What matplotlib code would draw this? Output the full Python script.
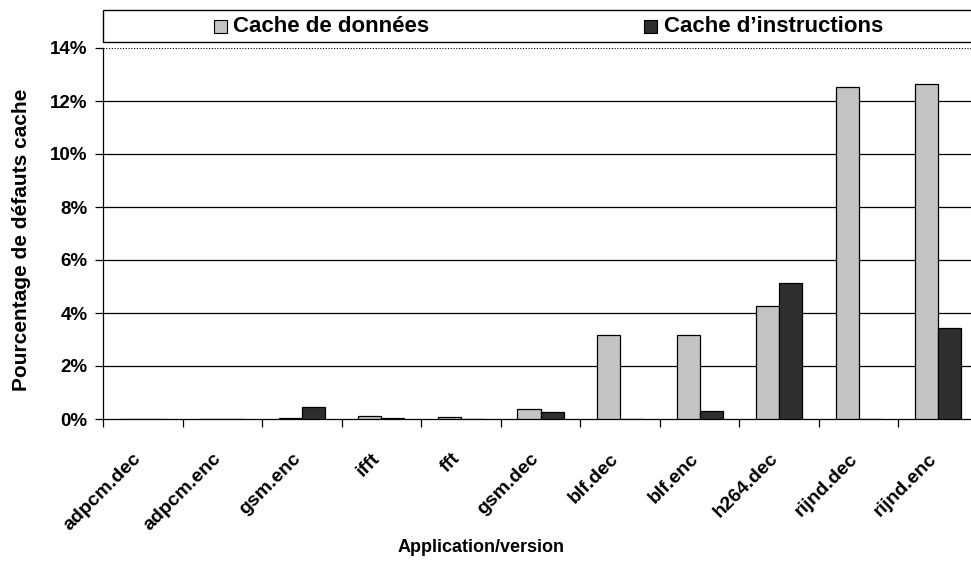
import matplotlib
matplotlib.use("Agg")
import matplotlib.pyplot as plt
from matplotlib.patches import Rectangle
from matplotlib.transforms import ScaledTranslation
import numpy as np

plt.rcParams['font.family'] = ['Liberation Sans', 'DejaVu Sans']

categories = ["adpcm.dec", "adpcm.enc", "gsm.enc", "ifft", "fft", "gsm.dec",
              "blf.dec", "blf.enc", "h264.dec", "rijnd.dec", "rijnd.enc"]
data_cache = [0.0, 0.0, 0.03, 0.10, 0.08, 0.37, 3.17, 3.17, 4.27, 12.53, 12.64]
instr_cache = [0.0, 0.0, 0.45, 0.02, 0.0, 0.25, 0.0, 0.32, 5.13, 0.0, 3.45]
yticks = [0, 2, 4, 6, 8, 10, 12, 14]
ytick_labels = ["0%", "2%", "4%", "6%", "8%", "10%", "12%", "14%"]
legend_labels = ["Cache de données", "Cache d\u2019instructions"]

W, H = 971, 571
fig = plt.figure(figsize=(W / 100, H / 100), dpi=100)
left, right, top, bottom = 103, 978, 48, 419
ax = fig.add_axes([left / W, 1 - bottom / H, (right - left) / W, (bottom - top) / H])

x = np.arange(len(categories))
bw = 0.29
c_data = "#c4c4c4"
c_instr = "#2e2e2e"
ax.bar(x - bw / 2, data_cache, bw, color=c_data, edgecolor="black", linewidth=0.9, zorder=3)
ax.bar(x + bw / 2, instr_cache, bw, color=c_instr, edgecolor="black", linewidth=0.9, zorder=3)

ax.set_xlim(-0.5, len(categories) - 0.5)
ax.set_ylim(0, 14)
ax.set_yticks(yticks)
ax.set_yticklabels(ytick_labels, fontsize=13.5, fontweight="bold")
for yv in yticks[1:-1]:
    ax.axhline(yv, color="black", linewidth=0.9, zorder=1)
ax.axhline(14, color="black", linewidth=0.8, linestyle=(0, (1, 1.5)), zorder=1)

ax.set_xticks(np.arange(len(categories) + 1) - 0.5, minor=False)
ax.set_xticklabels([])
ax.tick_params(axis="x", which="major", direction="out", length=6, width=0.9)
ax.set_xticks(x, minor=True)
labels = ax.set_xticklabels(categories, minor=True, rotation=45, ha="right", va="top",
                            rotation_mode="anchor", fontsize=14, fontweight="bold")
ax.tick_params(axis="x", which="minor", length=0, pad=16)
offset = ScaledTranslation(-10 / 100, -9 / 100, fig.dpi_scale_trans)
for lab in labels:
    lab.set_transform(lab.get_transform() + offset)
ax.tick_params(axis="y", direction="out", length=6, width=0.9, pad=5)

for s in ["top", "right"]:
    ax.spines[s].set_visible(False)
ax.spines["left"].set_linewidth(0.9)
ax.spines["bottom"].set_linewidth(0.9)

fig.text(22 / W, 1 - 240 / H, "Pourcentage de défauts cache", fontsize=15,
         fontweight="bold", rotation=90, ha="center", va="center")
fig.text(481 / W, 1 - 548 / H, "Application/version", fontsize=13,
         fontweight="bold", ha="center", va="center")

# legend box
fig.patches.append(Rectangle((103 / W, 1 - 42 / H), (980 - 103) / W, 32 / H,
                             transform=fig.transFigure, facecolor="white",
                             edgecolor="black", linewidth=1.0))
for (sx, tx, lab, col) in [(214, 233, legend_labels[0], c_data),
                           (644, 664, legend_labels[1], c_instr)]:
    fig.patches.append(Rectangle((sx / W, 1 - 33 / H), 13 / W, 13 / H,
                                 transform=fig.transFigure, facecolor=col,
                                 edgecolor="black", linewidth=0.8))
    fig.text(tx / W, 1 - 26 / H, lab, fontsize=16, fontweight="bold",
             ha="left", va="center")

fig.savefig("out.png", dpi=100)
